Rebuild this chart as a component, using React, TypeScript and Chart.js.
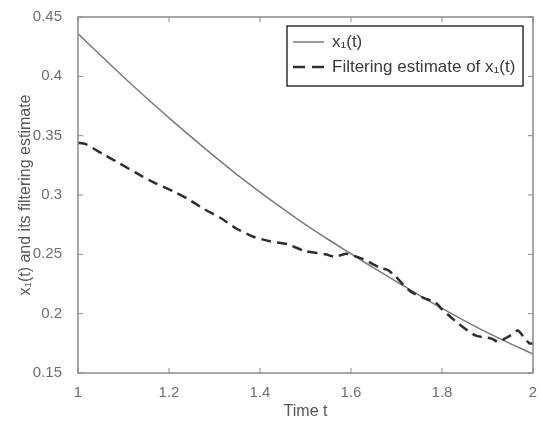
import { useEffect, useRef } from "react";
import { Chart, registerables } from "chart.js";

Chart.register(...registerables);

// True state x1(t)
const trueT = [1.0, 1.05, 1.1, 1.15, 1.2, 1.25, 1.3, 1.35, 1.4, 1.45, 1.5, 1.55, 1.6, 1.65, 1.7, 1.75, 1.8, 1.85, 1.9, 1.95, 2.0];
const trueX = [0.436, 0.4175, 0.3995, 0.382, 0.365, 0.3485, 0.3325, 0.317, 0.3025, 0.2885, 0.275, 0.2625, 0.2505, 0.2385, 0.227, 0.2155, 0.2045, 0.194, 0.184, 0.1748, 0.166];

// Filtering estimate of x1(t)
const estT = [1.0, 1.016, 1.057, 1.09, 1.126, 1.164, 1.21, 1.24, 1.278, 1.316, 1.347, 1.384, 1.422, 1.46, 1.498, 1.544, 1.566, 1.589, 1.627, 1.664, 1.68, 1.697, 1.73, 1.766, 1.785, 1.799, 1.836, 1.873, 1.909, 1.924, 1.938, 1.952, 1.967, 1.98, 1.992, 2.0];
const estX = [0.344, 0.343, 0.334, 0.327, 0.319, 0.311, 0.303, 0.297, 0.288, 0.28, 0.272, 0.265, 0.261, 0.2586, 0.2528, 0.25, 0.2478, 0.2505, 0.246, 0.2386, 0.237, 0.2317, 0.219, 0.2122, 0.21, 0.204, 0.1917, 0.1817, 0.179, 0.176, 0.179, 0.182, 0.1858, 0.18, 0.175, 0.175];

const xTicks = [1, 1.2, 1.4, 1.6, 1.8, 2];
const yTicks = [0.15, 0.2, 0.25, 0.3, 0.35, 0.4, 0.45];
const legendLabels = ["x\u2081(t)", "Filtering estimate of x\u2081(t)"];
const xTitle = "Time t";
const yTitle = "x\u2081(t) and its filtering estimate";

const FONT = "'Liberation Sans', Arial, sans-serif";
const SOLID_COLOR = "#7a7a7a";
const DASH_COLOR = "#2e2e2e";
const DASH = [10, 6];

const fmt = (v: number) => String(Number(v.toFixed(2)));

const framePlugin = {
  id: "frame",
  afterDatasetsDraw(chart: any) {
    const { ctx, chartArea: a, scales } = chart;
    ctx.save();
    ctx.strokeStyle = "#8a8a8a";
    ctx.lineWidth = 1.5;
    ctx.strokeRect(a.left, a.top, a.right - a.left, a.bottom - a.top);
    ctx.lineWidth = 1;
    ctx.beginPath();
    xTicks.forEach((v) => {
      const px = scales.x.getPixelForValue(v);
      ctx.moveTo(px, a.bottom);
      ctx.lineTo(px, a.bottom - 5);
      ctx.moveTo(px, a.top);
      ctx.lineTo(px, a.top + 5);
    });
    yTicks.forEach((v) => {
      const py = scales.y.getPixelForValue(v);
      ctx.moveTo(a.left, py);
      ctx.lineTo(a.left + 5, py);
      ctx.moveTo(a.right, py);
      ctx.lineTo(a.right - 5, py);
    });
    ctx.stroke();
    ctx.restore();
  },
};

const legendPlugin = {
  id: "boxLegend",
  afterDraw(chart: any) {
    const { ctx } = chart;
    const x0 = 287, y0 = 26, w = 236, h = 60;
    ctx.save();
    ctx.fillStyle = "#ffffff";
    ctx.fillRect(x0, y0, w, h);
    ctx.strokeStyle = "#333333";
    ctx.lineWidth = 1.5;
    ctx.strokeRect(x0, y0, w, h);
    const rows = [
      { y: 42, color: SOLID_COLOR, width: 1.5, dash: [] as number[] },
      { y: 67, color: DASH_COLOR, width: 2.5, dash: [12, 7] },
    ];
    rows.forEach((r, i) => {
      ctx.beginPath();
      ctx.setLineDash(r.dash);
      ctx.strokeStyle = r.color;
      ctx.lineWidth = r.width;
      ctx.moveTo(293, r.y);
      ctx.lineTo(324, r.y);
      ctx.stroke();
      ctx.setLineDash([]);
      ctx.fillStyle = "#3a3a3a";
      ctx.font = `17px ${FONT}`;
      ctx.textAlign = "left";
      ctx.textBaseline = "middle";
      ctx.fillText(legendLabels[i], 332, r.y);
    });
    ctx.restore();
  },
};

export default function App() {
  const ref = useRef<HTMLCanvasElement | null>(null);

  useEffect(() => {
    if (!ref.current) return;
    const chart = new Chart(ref.current, {
      type: "line",
      data: {
        datasets: [
          {
            label: legendLabels[0],
            data: trueT.map((t, i) => ({ x: t, y: trueX[i] })),
            borderColor: SOLID_COLOR,
            borderWidth: 1.5,
            pointRadius: 0,
            cubicInterpolationMode: "monotone",
            fill: false,
            order: 1,
          },
          {
            label: legendLabels[1],
            data: estT.map((t, i) => ({ x: t, y: estX[i] })),
            borderColor: DASH_COLOR,
            borderWidth: 2.5,
            borderDash: DASH,
            pointRadius: 0,
            tension: 0.2,
            fill: false,
            order: 0,
          },
        ],
      },
      options: {
        animation: false,
        responsive: false,
        devicePixelRatio: 1,
        layout: { padding: { left: 0, right: 10, top: 13, bottom: 0 } },
        plugins: {
          legend: { display: false },
          tooltip: { enabled: false },
        },
        scales: {
          x: {
            type: "linear",
            min: 1,
            max: 2,
            grid: { display: false },
            border: { display: false },
            afterBuildTicks: (s: any) => {
              s.ticks = xTicks.map((v) => ({ value: v }));
            },
            afterFit: (s: any) => {
              s.height = 48;
            },
            ticks: {
              padding: 3,
              color: "#6e6e6e",
              font: { family: FONT, size: 15 },
              callback: (v: any) => fmt(Number(v)),
              maxRotation: 0,
            },
            title: {
              display: true,
              text: xTitle,
              color: "#555555",
              font: { family: FONT, size: 16 },
              padding: { top: 0, bottom: 0 },
            },
          },
          y: {
            type: "linear",
            min: 0.15,
            max: 0.45,
            grid: { display: false },
            border: { display: false },
            afterBuildTicks: (s: any) => {
              s.ticks = yTicks.map((v) => ({ value: v }));
            },
            afterFit: (s: any) => {
              s.width = 78;
            },
            ticks: {
              padding: 8,
              color: "#6e6e6e",
              font: { family: FONT, size: 15 },
              callback: (v: any) => fmt(Number(v)),
            },
            title: {
              display: true,
              text: yTitle,
              color: "#555555",
              font: { family: FONT, size: 16 },
              padding: { top: 16, bottom: 0 },
            },
          },
        },
      },
      plugins: [framePlugin, legendPlugin],
    });
    return () => chart.destroy();
  }, []);

  return (
    <div style={{ position: "absolute", left: 0, top: 0, width: 543, height: 421, background: "#fff" }}>
      <canvas ref={ref} width={543} height={421} style={{ display: "block" }} />
    </div>
  );
}
